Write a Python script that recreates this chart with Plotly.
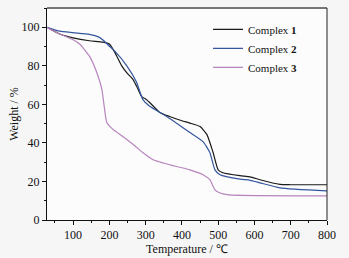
import plotly.graph_objects as go

t1 = [28, 63, 100, 145, 182, 200, 215, 234, 250, 265, 275, 289, 298, 311, 339, 366, 400, 422, 450, 469, 486, 500, 513, 560, 588, 615, 670, 698, 800]
w1 = [100, 96.5, 94.5, 93, 92.3, 91.3, 87, 80, 76, 73, 69.4, 64, 63, 61, 55.8, 53.7, 51.5, 50.3, 48.5, 44.3, 35, 26, 24.5, 23, 22.4, 20.9, 18.5, 18.3, 18.3]

t2 = [28, 63, 100, 145, 170, 185, 201, 215, 248, 275, 292, 311, 358, 402, 422, 458, 477, 491, 505, 560, 588, 615, 670, 800]
w2 = [100, 98, 97.2, 96.3, 95, 93, 90, 87.6, 80, 71.5, 62.6, 59, 53.7, 48, 45.4, 40.7, 35, 26, 23.5, 21.2, 20.6, 19.3, 16.7, 15.1]

t3 = [28, 63, 100, 118, 145, 165, 179, 185, 193, 210, 237, 270, 292, 320, 380, 422, 458, 477, 491, 505, 530, 800]
w3 = [100, 96.5, 93.5, 91.3, 85, 76.7, 68, 60, 50.6, 47, 43.3, 38.5, 35, 31.3, 28, 26, 23.5, 20.9, 15.6, 14, 13, 12.5]

names = ["Complex <b>1</b>", "Complex <b>2</b>", "Complex <b>3</b>"]
colors = ["#1a1a1a", "#34569e", "#b784bd"]

x_ticks = [100, 200, 300, 400, 500, 600, 700, 800]
y_ticks = [0, 20, 40, 60, 80, 100]

fig = go.Figure()
for t, w, n, c in zip([t1, t2, t3], [w1, w2, w3], names, colors):
    fig.add_trace(go.Scatter(x=t, y=w, mode="lines", name=n,
                             line=dict(color=c, width=1.2, shape="spline", smoothing=0.5)))

font = "Liberation Serif, Times New Roman, serif"
fig.update_layout(
    width=349, height=258,
    margin=dict(l=47, r=22, t=8, b=38, autoexpand=False),
    paper_bgcolor="#f6f6f6", plot_bgcolor="#fcfcfc",
    font=dict(family=font, size=12, color="#111"),
    showlegend=True,
    legend=dict(x=0.575, y=0.968, xanchor="left", yanchor="top",
                bgcolor="rgba(0,0,0,0)", font=dict(family=font, size=11),
                tracegroupgap=0, itemwidth=30),
    xaxis=dict(range=[28, 800], tickvals=x_ticks, showgrid=False, zeroline=False,
               automargin=False,
               showline=True, linecolor="#111", linewidth=1,
               ticks="outside", ticklen=4, tickcolor="#111",
               minor=dict(dtick=50, ticks="outside", ticklen=2, tickcolor="#111"),
               title=dict(text="Temperature / ℃", font=dict(size=12), standoff=2),
               tickfont=dict(size=12)),
    yaxis=dict(range=[0, 110], tickvals=y_ticks, showgrid=False, zeroline=False,
               automargin=False,
               showline=True, linecolor="#111", linewidth=1,
               ticks="outside", ticklen=4, tickcolor="#111",
               minor=dict(dtick=10, ticks="outside", ticklen=2, tickcolor="#111"),
               title=dict(text="Weight / %", font=dict(size=12), standoff=0),
               tickfont=dict(size=12)),
    shapes=[
        dict(type="line", xref="paper", yref="paper", x0=0, x1=1, y0=1, y1=1,
             line=dict(color="#777", width=2)),
        dict(type="line", xref="paper", yref="paper", x0=1, x1=1, y0=0, y1=1,
             line=dict(color="#222", width=1)),
    ],
)
fig.write_html("out.html", config={"displayModeBar": False},
               post_script="document.body.style.margin='0';document.body.style.overflow='hidden';")
